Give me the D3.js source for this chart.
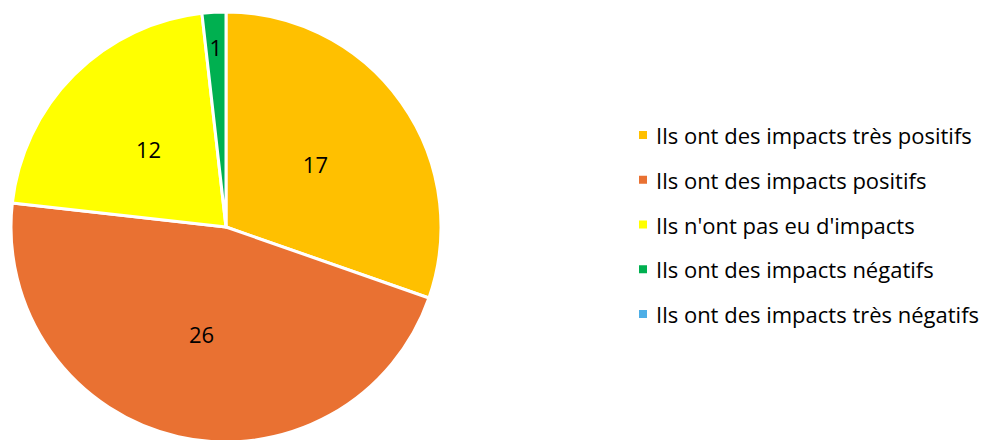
<!DOCTYPE html>
<html>
<head>
<meta charset="utf-8">
<script src="https://cdn.jsdelivr.net/npm/d3@7"></script>
<style>
  html, body { margin: 0; padding: 0; background: #fff; }
  svg { display: block; }
  text { font-family: "Open Sans", "Noto Sans", sans-serif; fill: #000; }
</style>
</head>
<body>
<svg id="chart" width="989" height="440"></svg>
<script>
const categories = [
  "Ils ont des impacts très positifs",
  "Ils ont des impacts positifs",
  "Ils n'ont pas eu d'impacts",
  "Ils ont des impacts négatifs",
  "Ils ont des impacts très négatifs"
];
const values = [17, 26, 12, 1, 0];
const colors = ["#FFC000", "#E97132", "#FFFF00", "#00B050", "#4DAEE6"];

const svg = d3.select("#chart");
const cx = 226, cy = 227, R = 215;
const fontSize = 22;

const data = categories.map((c, i) => ({ name: c, value: values[i], color: colors[i] }));
const pie = d3.pie().value(d => d.value).sort(null);
const arcs = pie(data);
const arc = d3.arc().innerRadius(0).outerRadius(R);
const labelArc = d3.arc().innerRadius(R * 0.51).outerRadius(R * 0.51);
const outerLabelArc = d3.arc().innerRadius(R * 0.84).outerRadius(R * 0.84);

const g = svg.append("g").attr("transform", `translate(${cx},${cy})`);
g.selectAll("path").data(arcs.filter(a => a.value > 0)).join("path")
  .attr("d", arc)
  .attr("fill", d => d.data.color)
  .attr("stroke", "#fff")
  .attr("stroke-width", 3)
  .attr("stroke-linejoin", "round");

g.selectAll("text.lbl").data(arcs.filter(a => a.value > 0)).join("text")
  .attr("class", "lbl")
  .attr("transform", d => {
    const small = (d.endAngle - d.startAngle) < 0.3;
    const p = (small ? outerLabelArc : labelArc).centroid(d);
    return `translate(${p[0]},${p[1]})`;
  })
  .attr("text-anchor", "middle")
  .attr("dominant-baseline", "central")
  .attr("font-size", fontSize)
  .text(d => d.data.value);

// Legend
const legendX = 639, legendY0 = 135, legendStep = 44.75;
const lg = svg.append("g");
const items = lg.selectAll("g").data(data).join("g")
  .attr("transform", (d, i) => `translate(${legendX},${legendY0 + i * legendStep})`);
items.append("rect").attr("x", 0).attr("y", -4).attr("width", 8).attr("height", 8)
  .attr("fill", d => d.color);
items.append("text").attr("x", 17).attr("y", 0)
  .attr("dominant-baseline", "central")
  .attr("font-size", fontSize)
  .text(d => d.name);
</script>
</body>
</html>
